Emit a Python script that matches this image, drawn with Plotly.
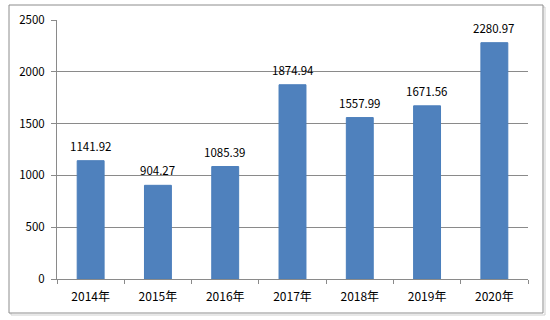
import plotly.graph_objects as go

categories = ["2014年", "2015年", "2016年", "2017年", "2018年", "2019年", "2020年"]
values = [1141.92, 904.27, 1085.39, 1874.94, 1557.99, 1671.56, 2280.97]
y_ticks = [0, 500, 1000, 1500, 2000, 2500]

W, H = 550, 320
L, R, T, B = 57, 22, 20, 41
pw, ph = W - L - R, H - T - B

def px(x):
    return (x - L) / pw

def py(y):
    return (H - B - y) / ph

FONT = "Noto Sans CJK SC, Noto Sans, sans-serif"
GRID = "#8a8a8a"

fig = go.Figure()
fig.add_trace(go.Bar(
    x=categories, y=values,
    marker=dict(color="#4F81BD", line=dict(color="#4A7EBB", width=1)),
    width=0.4,
    hoverinfo="x+y",
))

for c, v in zip(categories, values):
    fig.add_annotation(x=c, y=v, text=f"{v:.2f}", showarrow=False,
                       yanchor="bottom", yshift=5,
                       font=dict(family=FONT, size=11.5, color="#000000"))

# chart border with a slight shadow
fig.add_shape(type="rect", xref="paper", yref="paper",
              x0=px(11), x1=px(545), y0=py(315), y1=py(7),
              line=dict(color="#d0d0d0", width=1), layer="below")
fig.add_shape(type="rect", xref="paper", yref="paper",
              x0=px(9), x1=px(543), y0=py(313), y1=py(5),
              line=dict(color="#8c8c8c", width=1), fillcolor="white", layer="below")

fig.update_layout(
    width=W, height=H,
    margin=dict(l=L, r=R, t=T, b=B),
    paper_bgcolor="white", plot_bgcolor="rgba(0,0,0,0)",
    showlegend=False,
    font=dict(family=FONT, size=11, color="#000000"),
    xaxis=dict(
        type="category",
        showline=True, linecolor=GRID, linewidth=1,
        ticks="outside", tickson="boundaries", ticklen=4, tickcolor=GRID,
        showgrid=False,
        tickfont=dict(family=FONT, size=12),
        ticklabelstandoff=7,
    ),
    yaxis=dict(
        range=[0, 2500], tickvals=y_ticks,
        showline=True, linecolor=GRID, linewidth=1,
        ticks="outside", ticklen=5, tickcolor=GRID,
        showgrid=True, gridcolor=GRID, gridwidth=1,
        zeroline=False,
        tickfont=dict(family=FONT, size=11.5),
        ticklabelstandoff=4,
    ),
)

fig.write_html("out.html")
